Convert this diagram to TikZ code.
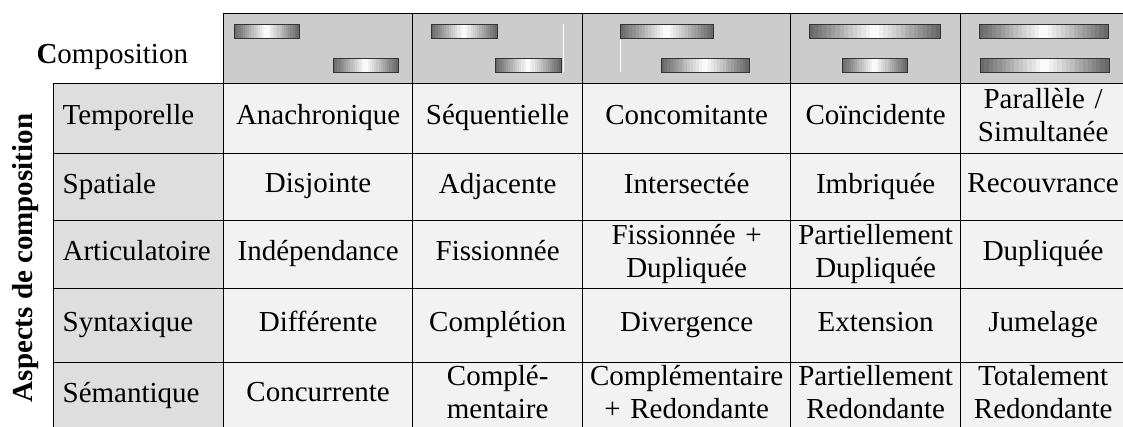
\documentclass[tikz,border=0pt]{standalone}
\usepackage{fontspec}
\setmainfont{Liberation Serif}
\usetikzlibrary{positioning}

\newcommand{\cellstrut}{\rule[-8pt]{0pt}{27pt}}

% gradient bar: x1, y1, x2, y2
\newcommand{\gradbar}[4]{%
  \foreach \k in {0,...,29}{
    \pgfmathsetmacro{\xa}{#1+(#3-#1)*\k/30}
    \pgfmathsetmacro{\xb}{#1+(#3-#1)*(\k+1)/30+0.4}
    \pgfmathtruncatemacro{\shd}{62*abs((\k+0.5)/15-1)}
    \fill[black!\shd] (\xa,#2) rectangle (\xb,#4);
  }
  \draw[barline] (#1,#2) rectangle (#3,#4);
}

\tikzset{
  txt/.style={font=\fontsize{29}{33}\selectfont},
  tabline/.style={draw=black, line width=1.3pt},
  headcell/.style={tabline, fill=black!20, inner xsep=2pt, inner ysep=0pt, anchor=north west},
  aspcell/.style={tabline, txt, fill=black!13, inner xsep=9pt, inner ysep=0pt, anchor=north west,
                  text width=152pt, align=left,
                  execute at begin node=\cellstrut, execute at end node=\cellstrut},
  valcell/.style={tabline, txt, fill=black!5, inner xsep=2pt, inner ysep=0pt, anchor=north west,
                  align=center,
                  execute at begin node=\cellstrut, execute at end node=\cellstrut},
  % column widths
  c1/.style={text width=185pt},
  c2/.style={text width=166pt},
  c3/.style={text width=204pt},
  c4/.style={text width=166pt},
  c5/.style={text width=161pt},
  % row heights
  r0/.style={minimum height=70pt},
  r1/.style={minimum height=70pt},
  r2/.style={minimum height=67pt},
  r3/.style={minimum height=68pt},
  r4/.style={minimum height=74pt},
  r5/.style={minimum height=67pt},
  barline/.style={draw=black!80, line width=0.9pt},
  guide/.style={draw=white, line width=1pt},
}

\begin{document}
\begin{tikzpicture}[x=1pt, y=-1pt]
  \useasboundingbox (0,0) rectangle (1123,427);

  % titles
  \node[txt, anchor=base west] (title) at (33,64) {\textbf{C}omposition};
  \node[txt, rotate=90, font=\fontsize{29}{33}\selectfont\bfseries] (aspects) at (26,258) {Aspects de composition};

  % header row
  \node[headcell, c1, r0] (hd1) at (223,13) {};
  \node[headcell, c2, r0] (hd2) at (412,13) {};
  \node[headcell, c3, r0] (hd3) at (582,13) {};
  \node[headcell, c4, r0] (hd4) at (790,13) {};
  \node[headcell, c5, r0] (hd5) at (960,13) {};

  % bars
  \gradbar{234}{24}{299}{38}
  \gradbar{333}{58}{398}{72}
  \gradbar{431}{24}{497}{38}
  \gradbar{495}{58}{561}{72}
  \draw[guide] (563,24) -- (563,72);
  \gradbar{620}{24}{713}{38}
  \gradbar{661}{58}{749}{72}
  \draw[guide] (620,39) -- (620,72);
  \gradbar{809}{24}{940}{38}
  \gradbar{842}{58}{907}{72}
  \gradbar{979}{24}{1108}{38}
  \gradbar{980}{58}{1109}{72}

  % Temporelle
  \node[aspcell, r1]     (tem0) at (53,83)  {Temporelle};
  \node[valcell, c1, r1] (tem1) at (223,83) {Anachronique};
  \node[valcell, c2, r1] (tem2) at (412,83) {Séquentielle};
  \node[valcell, c3, r1] (tem3) at (582,83) {Concomitante};
  \node[valcell, c4, r1] (tem4) at (790,83) {Coïncidente};
  \node[valcell, c5, r1] (tem5) at (960,83) {Parallèle /\\Simultanée};

  % Spatiale
  \node[aspcell, r2]     (spa0) at (53,153)  {Spatiale};
  \node[valcell, c1, r2] (spa1) at (223,153) {Disjointe};
  \node[valcell, c2, r2] (spa2) at (412,153) {Adjacente};
  \node[valcell, c3, r2] (spa3) at (582,153) {Intersectée};
  \node[valcell, c4, r2] (spa4) at (790,153) {Imbriquée};
  \node[valcell, c5, r2] (spa5) at (960,153) {Recouvrance};

  % Articulatoire
  \node[aspcell, r3]     (art0) at (53,220)  {Articulatoire};
  \node[valcell, c1, r3] (art1) at (223,220) {Indépendance};
  \node[valcell, c2, r3] (art2) at (412,220) {Fissionnée};
  \node[valcell, c3, r3] (art3) at (582,220) {Fissionnée +\\Dupliquée};
  \node[valcell, c4, r3] (art4) at (790,220) {Partiellement\\Dupliquée};
  \node[valcell, c5, r3] (art5) at (960,220) {Dupliquée};

  % Syntaxique
  \node[aspcell, r4]     (syn0) at (53,288)  {Syntaxique};
  \node[valcell, c1, r4] (syn1) at (223,288) {Différente};
  \node[valcell, c2, r4] (syn2) at (412,288) {Complétion};
  \node[valcell, c3, r4] (syn3) at (582,288) {Divergence};
  \node[valcell, c4, r4] (syn4) at (790,288) {Extension};
  \node[valcell, c5, r4] (syn5) at (960,288) {Jumelage};

  % Sémantique
  \node[aspcell, r5]     (sem0) at (53,362)  {Sémantique};
  \node[valcell, c1, r5] (sem1) at (223,362) {Concurrente};
  \node[valcell, c2, r5] (sem2) at (412,362) {Complé-\\mentaire};
  \node[valcell, c3, r5] (sem3) at (582,362) {Complémentaire\\+ Redondante};
  \node[valcell, c4, r5] (sem4) at (790,362) {Partiellement\\Redondante};
  \node[valcell, c5, r5] (sem5) at (960,362) {Totalement\\Redondante};
\end{tikzpicture}
\end{document}
